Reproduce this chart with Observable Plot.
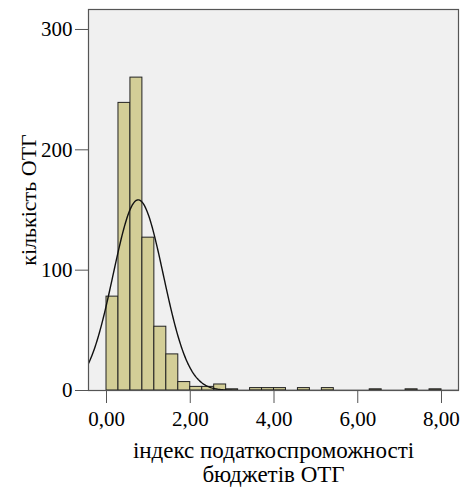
<!DOCTYPE html>
<html>
<head>
<meta charset="utf-8">
<script src="https://cdn.jsdelivr.net/npm/d3@7"></script>
<script src="https://cdn.jsdelivr.net/npm/@observablehq/plot@0.6"></script>
<style>
  html, body { margin: 0; padding: 0; background: #fff; }
  svg text { font-family: "Liberation Serif", "Times New Roman", serif; }
</style>
</head>
<body>
<div id="chart"></div>
<script>
// Histogram counts per bin (bins of width 2/7 starting at 0)
const counts = [78, 239, 260, 127, 53, 30, 7, 3, 3, 5, 1, 0, 2, 2, 2, 0, 2, 0, 2, 0, 0, 0, 1, 0, 0, 1, 0, 1];
const binStart = 0;
const binWidth = 2 / 7;
// Fitted normal curve parameters
const fitMean = 0.757;
const fitSd = 0.60;
const fitN = 834;
// Axis ticks and labels
const xTicks = [0, 2, 4, 6, 8];
const yTicks = [0, 100, 200, 300];
const xLabel = "індекс податкоспроможності\nбюджетів ОТГ";
const yLabel = "кількість ОТГ";

const xDomain = [-0.43, 8.406];
const yDomain = [0, 316.6];

const serif = "Liberation Serif";

const bins = counts.map((c, i) => ({
  x1: binStart + i * binWidth,
  x2: binStart + (i + 1) * binWidth,
  count: c
})).filter(d => d.count > 0);

const curve = d3.range(xDomain[0], xDomain[1] + 0.001, 0.02).map(x => ({
  x,
  y: fitN * binWidth * Math.exp(-((x - fitMean) ** 2) / (2 * fitSd * fitSd)) / (fitSd * Math.sqrt(2 * Math.PI))
}));

const fmt = v => d3.format(".2f")(v).replace(".", ",");

const plot = Plot.plot({
  width: 461,
  height: 488,
  marginTop: 9,
  marginRight: 3,
  marginBottom: 98,
  marginLeft: 88,
  style: {fontFamily: serif, fontSize: "21px", color: "#000", background: "#fff"},
  x: {domain: xDomain},
  y: {domain: yDomain},
  marks: [
    Plot.frame({fill: "#f0f0f0", stroke: "none"}),
    Plot.rectY(bins, {x1: "x1", x2: "x2", y: "count", fill: "#d3ce97", stroke: "#222", strokeWidth: 1, inset: 0}),
    Plot.line(curve, {x: "x", y: "y", stroke: "#111", strokeWidth: 1.4, clip: true}),
    Plot.frame({stroke: "#555", strokeWidth: 1.2}),
    Plot.axisX({ticks: xTicks, tickFormat: fmt, tickSize: 13, tickPadding: 8, stroke: "#555", label: null, fontSize: 21, fontFamily: serif}),
    Plot.axisY({ticks: yTicks, tickSize: 13, tickPadding: 3, stroke: "#555", label: null, fontSize: 21, fontFamily: serif}),
    Plot.text([xLabel], {frameAnchor: "bottom", lineAnchor: "top", dy: 51, lineHeight: 1.03, fontSize: 23, fontFamily: serif, fill: "#000"}),
    Plot.text([yLabel], {frameAnchor: "left", textAnchor: "middle", rotate: -90, dx: -60, fontSize: 22, fontFamily: serif, fill: "#000"})
  ]
});
document.getElementById("chart").appendChild(plot);
</script>
</body>
</html>
